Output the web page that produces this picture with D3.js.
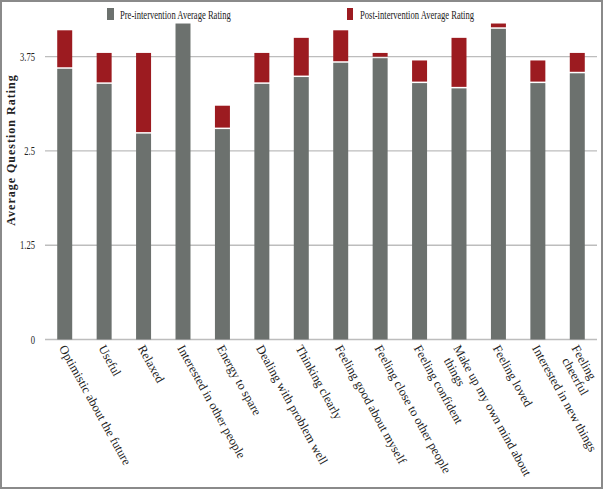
<!DOCTYPE html>
<html><head><meta charset="utf-8">
<script src="https://cdn.jsdelivr.net/npm/d3@7"></script>
<style>html,body{margin:0;padding:0;background:#fff;}svg{display:block;}</style>
</head><body>
<script>
const categories = [
  "Optimistic about the future","Useful","Relaxed","Interested in other people",
  "Energy to spare","Dealing with problem well","Thinking clearly","Feeling good about myself",
  "Feeling close to other people","Feeling confident","Make up my own mind about\nthings",
  "Feeling loved","Interested in new things","Feeling\ncheerful"
];
const preValues  = [3.59,3.39,2.73,4.19,2.79,3.39,3.48,3.67,3.73,3.40,3.33,4.12,3.40,3.53];
const postValues = [4.10,3.80,3.80,4.19,3.10,3.80,4.00,4.10,3.80,3.70,4.00,4.19,3.70,3.80];
const yTicks = [0,1.25,2.5,3.75];
const yTickLabels = ["0","1.25","2.5","3.75"];
const seriesNames = ["Pre-intervention Average Rating","Post-intervention Average Rating"];
const colors = ["#6c716e","#9c1b20"];

const W=604,H=490;
const svg=d3.select("body").append("svg").attr("width",W).attr("height",H);
svg.append("rect").attr("x",0).attr("y",0).attr("width",W).attr("height",H).attr("fill","#fff");

const x=d3.scaleBand().domain(categories).range([45,597]).paddingInner(0.62).paddingOuter(0.31);
const y=d3.scaleLinear().domain([0,3.75]).range([339.5,56.7]);
const serif="'Liberation Serif','Times New Roman',serif";
const sx=0.66;

// gridlines
svg.append("g").selectAll("line").data(yTicks).join("line")
  .attr("x1",45).attr("x2",597).attr("y1",d=>y(d)).attr("y2",d=>y(d))
  .attr("stroke","#bdbdbd").attr("stroke-width",1.3);

// tick labels
svg.append("g").selectAll("text").data(yTicks).join("text")
  .attr("transform",d=>`translate(35,${y(d)+4}) scale(${sx},1)`)
  .attr("text-anchor","end").attr("font-family",serif).attr("font-size",13).attr("fill","#222")
  .text((d,i)=>yTickLabels[i]);

// bars
const data=categories.map((c,i)=>({c,pre:preValues[i],post:postValues[i]}));
svg.append("g").selectAll("rect").data(data).join("rect")
  .attr("x",d=>x(d.c)).attr("width",x.bandwidth())
  .attr("y",d=>y(d.pre)).attr("height",d=>y(0)-y(d.pre)).attr("fill",colors[0]);
svg.append("g").selectAll("rect").data(data.filter(d=>d.post>d.pre)).join("rect")
  .attr("x",d=>x(d.c)).attr("width",x.bandwidth())
  .attr("y",d=>y(d.post)).attr("height",d=>Math.max(0,y(d.pre)-y(d.post)-1.5)).attr("fill",colors[1]);

// x labels
const xl=svg.append("g").selectAll("text").data(categories).join("text")
  .attr("transform",d=>`translate(${x(d)+x.bandwidth()/2-6},348) rotate(61)`)
  .attr("font-family",serif).attr("font-size",12.5).attr("fill","#222");
xl.each(function(d){
  const lines=d.split("\n");
  const t=d3.select(this);
  lines.forEach((l,i)=>{
    t.append("tspan").attr("x",i?"0.5em":0).attr("dy",i?"1.15em":0).text(l);
  });
});

// legend
const leg=[{x:107,y:8,w:7,h:12},{x:347,y:8,w:6,h:12}];
leg.forEach((p,i)=>{
  svg.append("rect").attr("x",p.x).attr("y",p.y).attr("width",p.w).attr("height",p.h).attr("fill",colors[i]);
  svg.append("text").attr("transform",`translate(${p.x+13},19) scale(${sx},1)`)
    .attr("font-family",serif).attr("font-size",13).attr("fill","#222").text(seriesNames[i]);
});

// y title
svg.append("text").attr("transform","translate(15,150) rotate(-90)")
  .attr("text-anchor","middle").attr("font-family",serif).attr("font-size",12).attr("font-weight","bold")
  .attr("letter-spacing",1).attr("fill","#222").text("Average Question Rating");

// frame
svg.append("rect").attr("x",1).attr("y",1).attr("width",W-3).attr("height",H-3)
  .attr("fill","none").attr("stroke","#8a8a8a").attr("stroke-width",2);
</script>
</body></html>
